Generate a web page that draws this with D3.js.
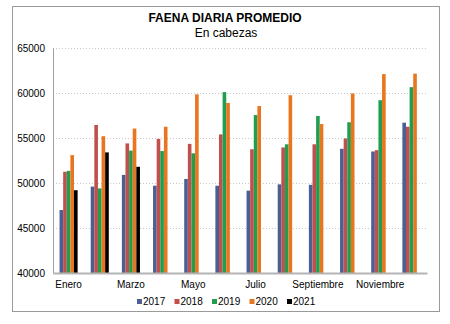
<!DOCTYPE html>
<html>
<head>
<meta charset="utf-8">
<script src="https://cdn.jsdelivr.net/npm/d3@7"></script>
<style>
  body { margin: 0; background: #fff; }
  text { font-family: "Liberation Sans", Arial, sans-serif; }
</style>
</head>
<body>
<script>
// monthly average daily slaughter, head count
var months = ["Enero","Febrero","Marzo","Abril","Mayo","Junio","Julio","Agosto","Septiembre","Octubre","Noviembre","Diciembre"];
var years = ["2017","2018","2019","2020","2021"];
var colors = ["#4a5f94","#c0504d","#1f9e4f","#e8761f","#000000"];

var v2017 = [47000,49600,50900,49700,50450,49700,49150,49850,49800,53800,53500,56700];
var v2018 = [51250,56450,54400,54900,54350,55400,53750,53950,54300,54950,53650,56250];
var v2019 = [51350,49400,53600,53550,53300,60100,57550,54300,57450,56750,59200,60650];
var v2020 = [53100,55200,56050,56250,59850,58900,58550,59750,56550,59950,62100,62150];
var v2021 = [49200,53400,51800];

var yTicks = [40000,45000,50000,55000,60000,65000];
var xLabels = ["Enero","Marzo","Mayo","Julio","Septiembre","Noviembre"];

var series = [v2017, v2018, v2019, v2020, v2021];

var width = 450, height = 324;
var svg = d3.select("body").append("svg")
    .attr("width", width)
    .attr("height", height);

// frame round the whole chart
svg.append("rect")
    .attr("x", 12.5).attr("y", 6.5)
    .attr("width", 427).attr("height", 305)
    .attr("fill", "#fff")
    .attr("stroke", "#9a9a9a");

var plot = {left: 53, right: 427, top: 48, bottom: 273};

var y = d3.scaleLinear().domain([40000, 65000]).range([plot.bottom, plot.top]);
var x0 = d3.scaleBand().domain(months).range([plot.left, plot.right])
    .paddingInner(0.42).paddingOuter(0.21);
var x1 = d3.scaleBand().domain(years).range([0, x0.bandwidth()]);

// dotted gridlines
svg.append("g").selectAll("line")
    .data(yTicks.slice(1))
    .enter().append("line")
    .attr("x1", plot.left).attr("x2", plot.right)
    .attr("y1", d => y(d) + 0.5).attr("y2", d => y(d) + 0.5)
    .attr("stroke", "#c8c8c8")
    .attr("stroke-dasharray", "1,2");

// bars
series.forEach(function(vals, i) {
    svg.append("g").selectAll("rect")
        .data(vals)
        .enter().append("rect")
        .attr("x", (d, j) => x0(months[j]) + x1(years[i]))
        .attr("y", d => y(d))
        .attr("width", x1.bandwidth())
        .attr("height", d => y(40000) - y(d))
        .attr("fill", colors[i]);
});

// axes
var yAxis = d3.axisLeft(y).tickValues(yTicks).tickSize(0).tickPadding(8).tickFormat(d3.format("d"));
var gy = svg.append("g").attr("transform", "translate(" + plot.left + ",0)").call(yAxis);
gy.select(".domain").attr("stroke", "#a0a0a0");
gy.selectAll("text").attr("font-size", 10).attr("fill", "#000")
    .attr("font-family", "Liberation Sans, Arial, sans-serif");

var xAxis = d3.axisBottom(x0).tickSize(0).tickPadding(8)
    .tickFormat(d => xLabels.indexOf(d) >= 0 ? d : "");
var gx = svg.append("g").attr("transform", "translate(0," + plot.bottom + ")").call(xAxis);
gx.select(".domain").attr("stroke", "#b4b4b4").attr("stroke-width", 2);
gx.selectAll("text").attr("font-size", 10).attr("fill", "#000")
    .attr("font-family", "Liberation Sans, Arial, sans-serif");

// titles
svg.append("text")
    .attr("x", 225).attr("y", 22)
    .attr("text-anchor", "middle")
    .attr("font-size", 12).attr("font-weight", "bold")
    .text("FAENA DIARIA PROMEDIO");
svg.append("text")
    .attr("x", 226).attr("y", 37)
    .attr("text-anchor", "middle")
    .attr("font-size", 12)
    .text("En cabezas");

// legend
var legend = svg.append("g").selectAll("g")
    .data(years)
    .enter().append("g")
    .attr("transform", (d, i) => "translate(" + (137 + i * 37.5) + ",305)");
legend.append("rect")
    .attr("x", 0).attr("y", -6)
    .attr("width", 5).attr("height", 5)
    .attr("fill", (d, i) => colors[i]);
legend.append("text")
    .attr("x", 6).attr("y", 0)
    .attr("font-size", 10)
    .text(d => d);
</script>
</body>
</html>
